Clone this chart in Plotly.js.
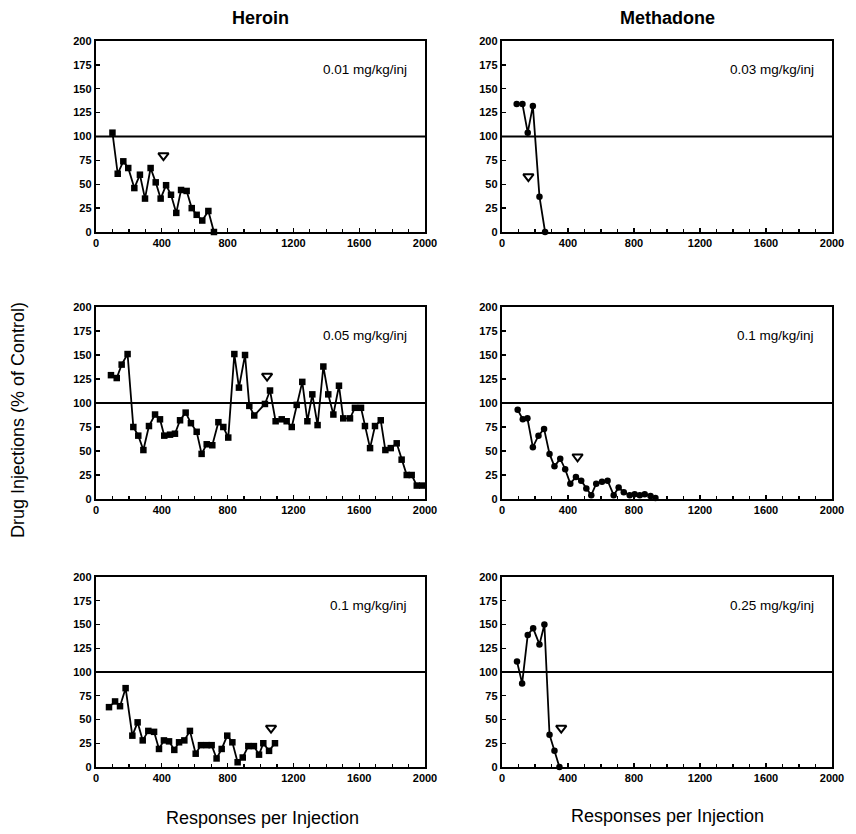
<!DOCTYPE html>
<html>
<head>
<meta charset="utf-8">
<script src="https://cdn.plot.ly/plotly-3.0.1.min.js"></script>
<style>html,body{margin:0;padding:0;background:#fff;}#chart{width:856px;height:834px;}</style>
</head>
<body>
<div id="chart"></div>
<script>
// Heroin 0.01 mg/kg/inj
const her001X = [100,132,166,196,233,267,298,332,363,393,426,456,488,517,551,582,612,646,683,717];
const her001Y = [104,61,74,67,46,60,35,67,52,35,49,39,20,44,43,25,18,12,22,0];
const her001Tri = [[410],[80]];
// Heroin 0.05 mg/kg/inj
const her005X = [91,126,156,192,227,257,288,322,359,389,415,450,480,511,545,577,612,642,673,707,744,774,804,841,869,906,932,962,1027,1058,1092,1129,1159,1190,1220,1254,1285,1315,1347,1382,1412,1443,1477,1503,1544,1574,1611,1635,1666,1696,1731,1759,1792,1828,1858,1889,1919,1950,1984];
const her005Y = [129,126,140,151,75,66,51,76,88,83,66,67,68,82,90,79,70,47,57,56,80,75,64,151,116,150,97,87,99,113,81,83,81,75,98,122,81,109,77,138,109,88,118,84,84,95,95,76,53,76,82,51,53,58,41,25,25,14,14];
const her005Tri = [[1040],[128]];
// Heroin 0.1 mg/kg/inj
const her01X = [79,116,146,180,221,253,284,318,353,383,413,444,476,505,537,571,606,638,673,703,733,764,798,829,861,892,926,960,991,1017,1052,1088];
const her01Y = [63,69,64,83,33,47,28,38,37,19,28,27,18,26,28,38,14,23,23,23,9,19,33,26,5,10,22,22,13,25,17,25];
const her01Tri = [[1064],[41]];
// Methadone 0.03 mg/kg/inj
const met003X = [89,124,156,187,227,261];
const met003Y = [134,134,104,132,37,0];
const met003Tri = [[160],[58]];
// Methadone 0.1 mg/kg/inj
const met01X = [95,126,154,187,221,255,288,318,353,383,414,448,480,511,541,571,606,640,677,707,738,774,804,835,865,900,930];
const met01Y = [93,83,84,54,66,73,47,34,42,31,16,23,19,11,4,16,18,19,4,12,7,4,5,4,5,3,1];
const met01Tri = [[458],[44]];
// Methadone 0.25 mg/kg/inj
const met025X = [91,122,156,189,227,257,288,318,348];
const met025Y = [111,88,139,146,129,150,34,17,0];
const met025Tri = [[359],[41]];

const doseLabels = ['0.01 mg/kg/inj','0.03 mg/kg/inj','0.05 mg/kg/inj','0.1 mg/kg/inj','0.1 mg/kg/inj','0.25 mg/kg/inj'];
const xTickVals = [0,400,800,1200,1600,2000];
const yTickVals = [0,25,50,75,100,125,150,175,200];

const panels = [
  {x:her001X, y:her001Y, tri:her001Tri, sym:'square'},
  {x:met003X, y:met003Y, tri:met003Tri, sym:'circle'},
  {x:her005X, y:her005Y, tri:her005Tri, sym:'square'},
  {x:met01X, y:met01Y, tri:met01Tri, sym:'circle'},
  {x:her01X, y:her01Y, tri:her01Tri, sym:'square'},
  {x:met025X, y:met025Y, tri:met025Tri, sym:'circle'}
];

const W = 856, H = 834;
const colDom = [[96/W, 425/W],[502/W, 832/W]];
const rowDom = [[1-232/H, 1-41/H],[1-499/H, 1-307/H],[1-767/H, 1-577/H]];

const tickFont = {family:'Liberation Sans, Arial, sans-serif', size:11, color:'#000', weight:'bold'};
const data = [];
const layout = {
  width: W, height: H,
  margin: {l:0, r:0, t:0, b:0},
  paper_bgcolor: '#fff', plot_bgcolor: '#fff',
  showlegend: false,
  shapes: [], annotations: []
};

panels.forEach((p, i) => {
  const n = i + 1;
  const xa = n === 1 ? 'x' : 'x' + n;
  const ya = n === 1 ? 'y' : 'y' + n;
  const col = i % 2, row = Math.floor(i / 2);
  data.push({
    x: p.x, y: p.y, xaxis: xa, yaxis: ya, type: 'scatter', mode: 'lines+markers',
    line: {color:'#000', width:1.8},
    marker: {symbol:p.sym, size:6.5, color:'#000'},
    cliponaxis: false
  });
  data.push({
    x: p.tri[0], y: p.tri[1], xaxis: xa, yaxis: ya, type: 'scatter', mode: 'markers',
    marker: {symbol:'triangle-down-open', size:9, color:'#000', line:{width:2, color:'#000'}}
  });
  layout['xaxis' + (n === 1 ? '' : n)] = {
    domain: colDom[col], anchor: ya, range: [0, 2000],
    tickvals: xTickVals, ticktext: xTickVals.map(String),
    ticks: 'inside', ticklen: 4, tickwidth: 1.3, tickcolor: '#000',
    minor: {dtick: 100, ticks: 'inside', ticklen: 3, tickwidth: 1.2, tickcolor: '#000'},
    showgrid: false, zeroline: false, showline: true, linecolor: '#000', linewidth: 2.2, mirror: true,
    tickfont: tickFont, fixedrange: true
  };
  layout['yaxis' + (n === 1 ? '' : n)] = {
    domain: rowDom[row], anchor: xa, range: [0, 200],
    tickvals: yTickVals, ticktext: yTickVals.map(String),
    ticks: 'inside', ticklen: 4, tickwidth: 1.3, tickcolor: '#000',
    showgrid: false, zeroline: false, showline: true, linecolor: '#000', linewidth: 2.2, mirror: true,
    tickfont: tickFont, fixedrange: true
  };
  layout.shapes.push({
    type: 'line', xref: xa + ' domain', yref: ya, x0: 0, x1: 1, y0: 100, y1: 100,
    line: {color:'#000', width:1.8}
  });
  layout.annotations.push({
    text: doseLabels[i], xref: xa + ' domain', yref: ya + ' domain', x: 0.95, y: 0.85,
    xanchor: 'right', yanchor: 'middle', showarrow: false,
    font: {family:'Liberation Sans, Arial, sans-serif', size:13.5, color:'#000'}
  });
});

const titleFont = {family:'Liberation Sans, Arial, sans-serif', size:18, color:'#000'};
layout.annotations.push(
  {text:'<b>Heroin</b>', xref:'paper', yref:'paper', x:260/W, y:1-18/H, xanchor:'center', yanchor:'middle', showarrow:false, font:titleFont},
  {text:'<b>Methadone</b>', xref:'paper', yref:'paper', x:667/W, y:1-18/H, xanchor:'center', yanchor:'middle', showarrow:false, font:titleFont},
  {text:'Responses per Injection', xref:'paper', yref:'paper', x:262/W, y:1-818/H, xanchor:'center', yanchor:'middle', showarrow:false, font:titleFont},
  {text:'Responses per Injection', xref:'paper', yref:'paper', x:667/W, y:1-816/H, xanchor:'center', yanchor:'middle', showarrow:false, font:titleFont},
  {text:'Drug Injections (% of Control)', xref:'paper', yref:'paper', x:18/W, y:1-420/H, xanchor:'center', yanchor:'middle', textangle:-90, showarrow:false, font:titleFont}
);

Plotly.newPlot('chart', data, layout, {displayModeBar:false, staticPlot:true});
</script>
</body>
</html>
